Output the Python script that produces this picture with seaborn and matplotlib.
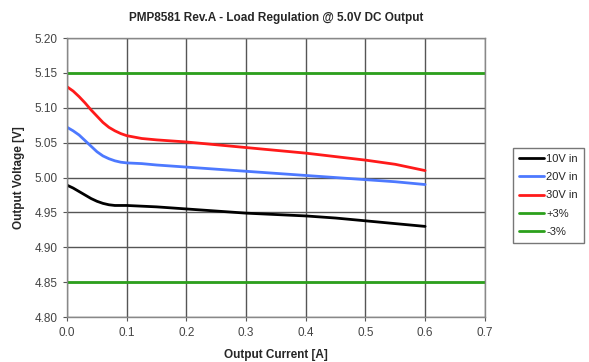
import matplotlib
matplotlib.use("Agg")
import matplotlib.pyplot as plt
import numpy as np
import pandas as pd
import seaborn as sns

current = [0.0, 0.01, 0.02, 0.03, 0.04, 0.05, 0.06, 0.07, 0.08, 0.09, 0.1,
           0.125, 0.15, 0.2, 0.25, 0.3, 0.35, 0.4, 0.45, 0.5, 0.55, 0.6]
v_10 = [4.989, 4.985, 4.980, 4.975, 4.970, 4.966, 4.963, 4.961, 4.960, 4.960, 4.960,
        4.959, 4.958, 4.955, 4.952, 4.949, 4.947, 4.945, 4.942, 4.938, 4.934, 4.930]
v_20 = [5.072, 5.067, 5.061, 5.053, 5.045, 5.037, 5.031, 5.027, 5.024, 5.022, 5.021,
        5.020, 5.018, 5.015, 5.012, 5.009, 5.006, 5.003, 5.000, 4.997, 4.994, 4.990]
v_30 = [5.130, 5.124, 5.116, 5.107, 5.097, 5.088, 5.079, 5.072, 5.067, 5.063, 5.060,
        5.056, 5.054, 5.051, 5.047, 5.043, 5.039, 5.035, 5.030, 5.025, 5.019, 5.010]
limit_x = [0.0, 0.7]
limit_hi = [5.15, 5.15]
limit_lo = [4.85, 4.85]

series = {"10V in": v_10, "20V in": v_20, "30V in": v_30}
rows = []
for name, vals in series.items():
    for x, y in zip(current, vals):
        rows.append({"I": x, "V": y, "series": name})
for name, vals in [("+3%", limit_hi), ("-3%", limit_lo)]:
    for x, y in zip(limit_x, vals):
        rows.append({"I": x, "V": y, "series": name})
df = pd.DataFrame(rows)

sns.set_style("white")
plt.rcParams["font.family"] = ["Liberation Sans", "DejaVu Sans"]

palette = {"10V in": "#000000", "20V in": "#4d79ff", "30V in": "#ff1a1a",
           "+3%": "#2ca01c", "-3%": "#2ca01c"}

fig = plt.figure(figsize=(5.89, 3.62), dpi=100)
ax = fig.add_axes([0.114, 0.124, 0.709, 0.771])
sns.lineplot(data=df, x="I", y="V", hue="series", palette=palette,
             linewidth=2.0, ax=ax, sort=True)

ax.set_xlim(0, 0.7)
ax.set_ylim(4.80, 5.20)
ax.set_xticks(np.arange(0, 0.71, 0.1))
ax.set_yticks(np.arange(4.80, 5.201, 0.05))
ax.set_xticklabels(["%.1f" % t for t in np.arange(0, 0.71, 0.1)], fontsize=8.5, color="#444444")
ax.set_yticklabels(["%.2f" % t for t in np.arange(4.80, 5.201, 0.05)], fontsize=8.5, color="#444444")
ax.grid(True, color="#555555", linewidth=1.0)
ax.set_axisbelow(True)
for s in ax.spines.values():
    s.set_color("#888888")
    s.set_linewidth(1.0)
ax.tick_params(axis="both", length=3, color="#555555", direction="out", left=True,
               bottom=True, pad=4)

ax.set_title("PMP8581 Rev.A - Load Regulation @ 5.0V DC Output", fontsize=8.5,
             fontweight="bold", pad=12)
ax.set_xlabel("Output Current [A]", fontsize=8.5, fontweight="bold", labelpad=7)
ax.set_ylabel("Output Voltage [V]", fontsize=8.5, fontweight="bold", labelpad=7)

leg = ax.legend(loc="center left", bbox_to_anchor=(1.067, 0.436), fontsize=8,
                frameon=True, fancybox=False, handlelength=2.3, handletextpad=0.15,
                borderpad=0.55, labelspacing=0.75, borderaxespad=0)
leg.get_frame().set_edgecolor("#555555")
leg.get_frame().set_linewidth(1.0)

fig.savefig("out.png", dpi=100)
